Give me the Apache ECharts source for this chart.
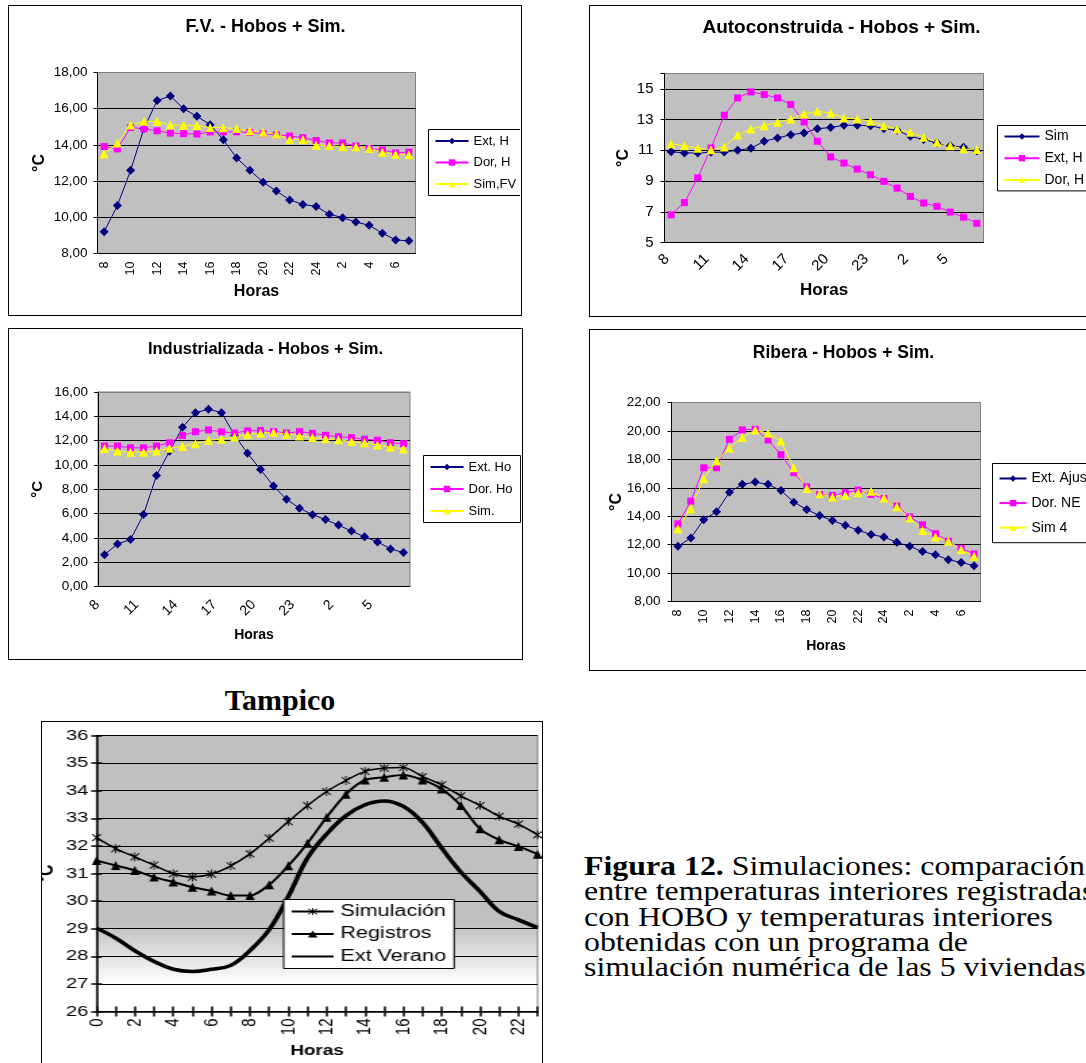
<!DOCTYPE html>
<html>
<head>
<meta charset="utf-8">
<script src="https://cdn.jsdelivr.net/npm/echarts@6/dist/echarts.min.js"></script>
<style>
  body{margin:0;width:1086px;height:1063px;overflow:hidden;background:#fff;position:relative;}
  .box{position:absolute;border:1.5px solid #000;box-sizing:border-box;overflow:hidden;background:#fff;}
  .ch{position:absolute;left:0;top:0;}
  #tampico{position:absolute;left:180px;top:682px;width:200px;text-align:center;
    font:bold 30px "Liberation Serif","Times New Roman",serif;line-height:36px;}
  #caption{position:absolute;left:584px;top:854px;white-space:nowrap;
    font:27px "Liberation Serif","Times New Roman",serif;line-height:25.3px;
    transform:scaleX(1.18);transform-origin:0 0;}
</style>
</head>
<body>
<div class="box" style="left:8px;top:5px;width:514px;height:311px"><div id="c1" class="ch" style="width:511px;height:308px"></div></div>
<div class="box" style="left:589px;top:5px;width:560px;height:312px"><div id="c2" class="ch" style="width:557px;height:309px"></div></div>
<div class="box" style="left:8px;top:328px;width:515px;height:332px"><div id="c3" class="ch" style="width:512px;height:329px"></div></div>
<div class="box" style="left:589px;top:329px;width:560px;height:342px"><div id="c4" class="ch" style="width:557px;height:339px"></div></div>
<div id="tampico">Tampico</div>
<div class="box" style="left:41px;top:721px;width:502px;height:360px">
  <div id="c5" class="ch" style="width:370px;height:345px;transform:scaleX(1.35);transform-origin:0 0"></div>
</div>
<div id="caption"><b>Figura 12.</b> Simulaciones: comparación<br>entre temperaturas interiores registradas<br>con HOBO y temperaturas interiores<br>obtenidas con un programa de<br>simulación numérica de las 5 viviendas</div>

<script>
// horas del dia (8 h a 7 h del dia siguiente)
var hoursA = ['8','9','10','11','12','13','14','15','16','17','18','19','20','21','22','23','24','1','2','3','4','5','6','7'];
var hoursT = ['0','1','2','3','4','5','6','7','8','9','10','11','12','13','14','15','16','17','18','19','20','21','22','23'];

// F.V.
var fvExt = [9.2, 10.65, 12.6, 14.9, 16.45, 16.7, 16.0, 15.58, 15.12, 14.28, 13.28, 12.6, 11.94, 11.45, 10.96, 10.71, 10.6, 10.17, 9.98, 9.74, 9.56, 9.12, 8.75, 8.7];
var fvDor = [13.91, 13.78, 14.96, 14.89, 14.78, 14.65, 14.62, 14.6, 14.72, 14.72, 14.72, 14.69, 14.62, 14.55, 14.49, 14.4, 14.24, 14.11, 14.11, 13.94, 13.8, 13.72, 13.56, 13.6];
var fvSim = [13.5, 14.1, 15.1, 15.3, 15.3, 15.1, 15.09, 15.07, 14.96, 14.95, 14.9, 14.78, 14.7, 14.6, 14.3, 14.3, 13.98, 13.96, 13.9, 13.9, 13.8, 13.6, 13.49, 13.45];

// Autoconstruida
var auSim = [10.91, 10.83, 10.83, 10.87, 10.89, 11.0, 11.13, 11.59, 11.8, 12.02, 12.13, 12.41, 12.48, 12.63, 12.63, 12.6, 12.41, 12.3, 11.91, 11.7, 11.48, 11.3, 11.2, 10.95];
var auExt = [6.8, 7.6, 9.2, 11.15, 13.28, 14.41, 14.8, 14.63, 14.41, 13.98, 12.85, 11.59, 10.57, 10.17, 9.78, 9.41, 8.98, 8.54, 8.0, 7.57, 7.35, 6.98, 6.65, 6.25];
var auDor = [11.43, 11.3, 11.13, 11.04, 11.22, 12.0, 12.39, 12.6, 12.83, 13.04, 13.37, 13.54, 13.43, 13.1, 13.04, 12.89, 12.6, 12.39, 12.17, 11.85, 11.52, 11.3, 11.1, 11.05];

// Industrializada
var inExt = [2.62, 3.5, 3.86, 5.92, 9.13, 11.12, 13.1, 14.3, 14.58, 14.3, 12.45, 10.96, 9.62, 8.26, 7.18, 6.44, 5.91, 5.51, 5.05, 4.56, 4.09, 3.67, 3.09, 2.79];
var inDor = [11.55, 11.55, 11.41, 11.41, 11.55, 11.82, 12.42, 12.73, 12.88, 12.72, 12.63, 12.8, 12.83, 12.74, 12.63, 12.74, 12.6, 12.44, 12.33, 12.25, 12.11, 12.03, 11.83, 11.75];
var inSim = [11.36, 11.14, 11.05, 11.05, 11.14, 11.38, 11.52, 11.75, 12.03, 12.12, 12.3, 12.52, 12.6, 12.69, 12.52, 12.38, 12.25, 12.16, 12.08, 11.92, 11.83, 11.64, 11.47, 11.31];

// Ribera
var riExt = [11.88, 12.47, 13.76, 14.31, 15.69, 16.24, 16.4, 16.24, 15.81, 14.99, 14.47, 14.05, 13.69, 13.36, 13.01, 12.71, 12.54, 12.16, 11.88, 11.51, 11.29, 10.94, 10.75, 10.52];
var riDor = [13.46, 15.06, 17.41, 17.41, 19.41, 20.07, 20.12, 19.36, 18.33, 17.06, 16.07, 15.53, 15.46, 15.65, 15.84, 15.53, 15.25, 14.71, 13.95, 13.39, 12.78, 12.24, 11.74, 11.34];
var riSim = [13.11, 14.52, 16.64, 17.88, 18.8, 19.53, 20.07, 19.84, 19.29, 17.41, 15.95, 15.58, 15.36, 15.48, 15.65, 15.76, 15.29, 14.66, 13.88, 12.99, 12.54, 12.24, 11.65, 11.18];

// Tampico
var taSim = [32.3, 31.9, 31.6, 31.3, 30.99, 30.87, 30.98, 31.28, 31.71, 32.28, 32.88, 33.46, 33.97, 34.37, 34.7, 34.82, 34.84, 34.51, 34.21, 33.81, 33.46, 33.07, 32.79, 32.4];
var taReg = [31.47, 31.29, 31.11, 30.87, 30.69, 30.5, 30.37, 30.2, 30.2, 30.59, 31.28, 32.1, 33.04, 33.87, 34.39, 34.49, 34.57, 34.39, 34.06, 33.46, 32.62, 32.22, 31.98, 31.7];
var taExt = [29.02, 28.66, 28.2, 27.81, 27.53, 27.45, 27.53, 27.67, 28.21, 28.96, 30.17, 31.56, 32.43, 33.09, 33.49, 33.63, 33.43, 32.85, 31.92, 31.05, 30.35, 29.62, 29.32, 29.04];

var FONT = '"Liberation Sans", Arial, sans-serif';
var NAVY = '#000080', MAG = '#ff00ff', YEL = '#ffff00';

function comma(v){ return v.toFixed(2).replace('.', ','); }

function serie(name, data, color, symbol, size){
    return {name: name, type: 'line', data: data, symbol: symbol, symbolSize: size,
        showAllSymbol: true, lineStyle: {color: color, width: 1}, itemStyle: {color: color},
        emphasis: {disabled: true}};
}

// las cuatro graficas de Hobos tienen el mismo formato
function hoboChart(id, c){
    var chart = echarts.init(document.getElementById(id));
    var nTicks = Math.ceil((c.yMax - c.yMin) / c.yStep) + 1;
    var gridCols = [];
    for (var i = 0; i < nTicks; i++) gridCols.push(i == nTicks - 1 ? '#808080' : '#000');
    chart.setOption({
        animation: false,
        textStyle: {fontFamily: FONT},
        title: {text: c.title, left: c.titleX, top: c.titleY, textAlign: 'center', padding: 0,
            textStyle: {fontSize: c.titleSize, fontWeight: 'bold', color: '#000', fontFamily: FONT}},
        legend: {orient: 'vertical', left: c.leg[0], top: c.leg[1], backgroundColor: '#fff',
            borderColor: '#000', borderWidth: 1, borderRadius: 0, padding: c.legPad, itemGap: c.legGap,
            itemWidth: c.legW, itemHeight: 8,
            textStyle: {fontSize: c.legFont, color: '#000', fontFamily: FONT}},
        grid: {left: c.grid[0], top: c.grid[1], width: c.grid[2], height: c.grid[3], show: true,
            outerBoundsMode: 'none', containLabel: false,
            backgroundColor: '#c0c0c0', borderColor: '#808080', borderWidth: 1},
        xAxis: {type: 'category', data: hoursA, name: 'Horas', nameLocation: 'middle', nameGap: c.xGap,
            nameTextStyle: {fontSize: c.xNameSize, fontWeight: 'bold', color: '#000', fontFamily: FONT},
            axisLine: {lineStyle: {color: '#000'}},
            axisTick: {interval: 0, length: 4, lineStyle: {color: '#000'}},
            axisLabel: {interval: c.every, rotate: c.rotate, margin: c.xMargin, fontSize: c.xFont,
                padding: c.xPad, color: '#000', fontFamily: FONT}},
        yAxis: {type: 'value', min: c.yMin, max: c.yMax, interval: c.yStep,
            name: '°C', nameLocation: 'middle', nameRotate: 90, nameGap: c.yGap, nameMoveOverlap: false,
            nameTextStyle: {fontSize: c.yNameSize, fontWeight: 'bold', color: '#000', fontFamily: FONT},
            axisLine: {show: true, lineStyle: {color: '#000'}},
            axisTick: {show: true, length: 4, lineStyle: {color: '#000'}},
            axisLabel: {formatter: c.yFmt, margin: c.yMargin, fontSize: c.yFont, color: '#000', fontFamily: FONT},
            splitLine: {lineStyle: {color: gridCols, width: 1}}},
        series: [
            serie(c.names[0], c.data[0], NAVY, 'diamond', 9),
            serie(c.names[1], c.data[1], MAG, 'rect', 7),
            serie(c.names[2], c.data[2], YEL, 'triangle', 9)
        ]
    });
}

hoboChart('c1', {
    title: 'F.V. - Hobos + Sim.', titleX: 256.5, titleY: 12, titleSize: 18,
    leg: [419.5, 123.5], legPad: [5, 8, 5, 6], legGap: 8.5, legW: 33, legFont: 13,
    grid: [88.5, 66.5, 318, 181],
    xGap: 29.5, xNameSize: 16, every: 1, rotate: 90, xMargin: 8, xFont: 12.5, xPad: 0,
    yMin: 8, yMax: 18, yStep: 2, yFmt: comma, yGap: 50, yNameSize: 16, yMargin: 10, yFont: 13.5,
    names: ['Ext, H', 'Dor, H', 'Sim,FV'], data: [fvExt, fvDor, fvSim]
});

hoboChart('c2', {
    title: 'Autoconstruida - Hobos + Sim.', titleX: 251.5, titleY: 12, titleSize: 19,
    leg: [407.5, 119.5], legPad: [4, 8, 4, 6], legGap: 7.7, legW: 35, legFont: 14,
    grid: [74.5, 67.5, 319, 169],
    xGap: 39.5, xNameSize: 17, every: 2, rotate: 45, xMargin: 10, xFont: 15, xPad: [0, 6, 0, 0],
    yMin: 5, yMax: 16, yStep: 2, yFmt: function(v){ return v == 16 ? '' : String(v); },
    yGap: 33, yNameSize: 16, yMargin: 11, yFont: 15,
    names: ['Sim', 'Ext, H', 'Dor, H'], data: [auSim, auExt, auDor]
});

hoboChart('c3', {
    title: 'Industrializada - Hobos + Sim.', titleX: 256.5, titleY: 12, titleSize: 16.5,
    leg: [414.5, 126.5], legPad: [5, 8, 5, 6], legGap: 9, legW: 33, legFont: 13,
    grid: [89, 63, 312, 194.5],
    xGap: 42, xNameSize: 14, every: 2, rotate: 45, xMargin: 9, xFont: 14, xPad: [0, 10, 0, 0],
    yMin: 0, yMax: 16, yStep: 2, yFmt: comma, yGap: 53, yNameSize: 15, yMargin: 10, yFont: 13.5,
    names: ['Ext. Ho', 'Dor. Ho', 'Sim.'], data: [inExt, inDor, inSim]
});

hoboChart('c4', {
    title: 'Ribera - Hobos + Sim.', titleX: 253.5, titleY: 14.5, titleSize: 17.5,
    leg: [402.5, 133.5], legPad: [8, 8, 8, 6], legGap: 10.6, legW: 27, legFont: 14,
    grid: [81.5, 72.5, 309, 199],
    xGap: 38, xNameSize: 14, every: 1, rotate: 90, xMargin: 8, xFont: 12.5, xPad: 0,
    yMin: 8, yMax: 22, yStep: 2, yFmt: comma, yGap: 47, yNameSize: 16, yMargin: 11, yFont: 13.5,
    names: ['Ext. Ajustada', 'Dor. NE', 'Sim 4'], data: [riExt, riDor, riSim]
});

// Tampico
var asterisk = 'path://M9,0H11V20H9Z M1.5,3L3,1.5L18.5,17L17,18.5Z M17,1.5L18.5,3L3,18.5L1.5,17Z';
var tc = echarts.init(document.getElementById('c5'));
tc.setOption({
    animation: false,
    textStyle: {fontFamily: FONT},
    grid: {left: 40.4, top: 13.5, width: 326.7, height: 276, show: true, borderColor: '#808080', borderWidth: 1,
        outerBoundsMode: 'none', containLabel: false,
        backgroundColor: new echarts.graphic.LinearGradient(0, 0, 0, 1, [
            {offset: 0, color: '#c0c0c0'}, {offset: 0.68, color: '#c0c0c0'},
            {offset: 0.9, color: '#ffffff'}, {offset: 1, color: '#ffffff'}])},
    legend: {orient: 'vertical', left: 179, top: 177.5, backgroundColor: '#fff', borderColor: '#000',
        borderWidth: 1, padding: [4, 6, 4, 5], itemGap: 6.5, itemWidth: 31, itemHeight: 9,
        textStyle: {fontSize: 16, color: '#000', fontFamily: FONT},
        data: ['Simulación', 'Registros', {name: 'Ext Verano', itemStyle: {opacity: 0}}]},
    xAxis: [{type: 'category', data: hoursT, boundaryGap: false, name: 'Horas', nameLocation: 'middle', nameGap: 33,
            nameTextStyle: {fontSize: 14, fontWeight: 'bold', color: '#000', fontFamily: FONT},
            axisLine: {lineStyle: {color: '#000', width: 1.5}},
            axisTick: {interval: 0, length: 5, lineStyle: {color: '#000', width: 1.5}},
            axisLabel: {interval: 1, rotate: 90, margin: 7, fontSize: 15, color: '#000', fontFamily: FONT}},
        {type: 'category', data: hoursT, boundaryGap: false, position: 'bottom',
            axisLine: {show: false}, axisLabel: {show: false}, splitLine: {show: false},
            axisTick: {inside: true, interval: 0, length: 5, lineStyle: {color: '#000', width: 1.5}}}],
    yAxis: [{type: 'value', min: 26, max: 36, interval: 1, name: '°C', nameLocation: 'middle', nameRotate: 90,
            nameGap: 29, nameMoveOverlap: false,
            nameTextStyle: {fontSize: 16, fontWeight: 'bold', color: '#000', fontFamily: FONT},
            axisLine: {show: true, lineStyle: {color: '#000', width: 1.5}},
            axisTick: {show: true, length: 4, lineStyle: {color: '#000', width: 1.5}},
            axisLabel: {margin: 6, fontSize: 15, color: '#000', fontFamily: FONT},
            splitLine: {lineStyle: {color: '#000', width: 1}}},
        {type: 'value', min: 26, max: 36, interval: 1, position: 'left',
            axisLine: {show: false}, axisLabel: {show: false}, splitLine: {show: false},
            axisTick: {show: true, inside: true, length: 4, lineStyle: {color: '#000', width: 1.5}}}],
    series: [
        {name: 'Simulación', type: 'line', data: taSim, smooth: 0.3, symbol: asterisk, symbolSize: [7, 9],
            showAllSymbol: true,
            lineStyle: {color: '#000', width: 1.5}, itemStyle: {color: '#000'}, emphasis: {disabled: true}},
        {name: 'Registros', type: 'line', data: taReg, smooth: 0.3, symbol: 'triangle', symbolSize: [7, 9],
            showAllSymbol: true,
            lineStyle: {color: '#000', width: 2}, itemStyle: {color: '#000'}, emphasis: {disabled: true}},
        {name: 'Ext Verano', type: 'line', data: taExt, smooth: 0.4, symbol: 'none',
            lineStyle: {color: '#000', width: 3.5}, itemStyle: {color: '#000'}, emphasis: {disabled: true}}
    ]
});
</script>
</body>
</html>
